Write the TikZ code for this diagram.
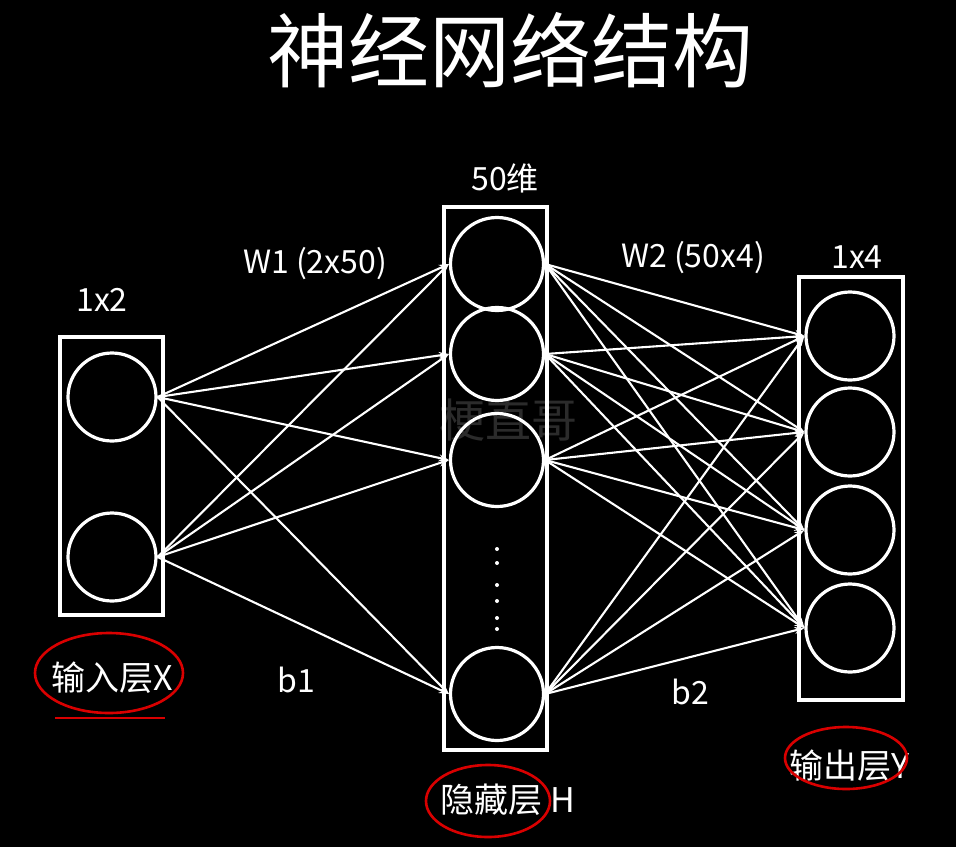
\documentclass[tikz,border=0pt]{standalone}
\usepackage{fontspec}
\setmainfont{Noto Sans CJK SC}
\usetikzlibrary{positioning,arrows.meta}

\begin{document}
\begin{tikzpicture}[
  x=1pt, y=-1pt,
  neuron/.style={circle, draw=white, line width=3.2pt, inner sep=0pt},
  layerbox/.style={rectangle, draw=white, line width=3.4pt, inner sep=0pt},
  arrow/.style={-{Stealth[length=10pt,width=7pt]}, white, line width=2.1pt},
  hand/.style={text=white, inner sep=1pt, font=\fontsize{32}{34}\selectfont},
  cjklabel/.style={text=white, inner sep=1pt, font=\fontsize{34}{36}\selectfont},
  redloop/.style={draw=red!85!black, line width=2.6pt},
]

% Background
\fill[black] (0,0) rectangle (956,847);
\useasboundingbox (0,0) rectangle (956,847);

% Title
\node[text=white, font=\fontsize{81}{84}\selectfont] (title) at (510, 50) {神经网络结构};

% Watermark
\node[text=white!17!black, font=\fontsize{46}{48}\selectfont] (wm) at (508, 420) {梗直哥};

% Layer boxes
\node[layerbox, minimum width=103, minimum height=278] (inbox) at (111.5, 476) {};
\node[layerbox, minimum width=103, minimum height=543] (hidbox) at (495.5, 478.5) {};
\node[layerbox, minimum width=104, minimum height=423] (outbox) at (851, 488.5) {};

% Input neurons
\node[neuron, minimum size=88] (in1) at (112, 397) {};
\node[neuron, minimum size=88] (in2) at (112, 557) {};

% Hidden neurons
\node[neuron, minimum size=93] (hid1) at (497, 264) {};
\node[neuron, minimum size=93] (hid2) at (497, 354) {};
\node[neuron, minimum size=93] (hid3) at (497, 460) {};
\node[neuron, minimum size=93] (hid4) at (497, 694) {};
\foreach \y in {549,563,585,601,618,629}
  \fill[white] (497, \y) circle (2);

% Output neurons
\node[neuron, minimum size=88] (out1) at (850, 336) {};
\node[neuron, minimum size=88] (out2) at (850, 432) {};
\node[neuron, minimum size=88] (out3) at (850, 530) {};
\node[neuron, minimum size=88] (out4) at (850, 628) {};

% Connections
\foreach \i in {1,2}
  \foreach \j in {1,...,4}
    \draw[arrow] (in\i.east) -- (hid\j.west);
\foreach \i in {1,...,4}
  \foreach \j in {1,...,4}
    \draw[arrow] (hid\i.east) -- (out\j.west);

% Shape labels
\node[hand] (insize) at (102, 300) {1x2};
\node[hand] (hidsize) at (505, 178) {50维};
\node[hand] (outsize) at (857, 257) {1x4};

% Weight and bias labels
\node[hand] (w1) at (315, 264) {W1 (2x50)};
\node[hand] (w2) at (693, 258) {W2 (50x4)};
\node[hand] (b1) at (296, 680) {b1};
\node[hand] (b2) at (690, 692) {b2};

% Layer names with red marks
\node[cjklabel] (inname) at (112, 678) {输入层X};
\node[cjklabel] (hidname) at (508, 800) {隐藏层 H};
\node[cjklabel] (outname) at (850, 766) {输出层Y};
\draw[redloop] (109, 673) ellipse [x radius=74, y radius=40];
\draw[redloop] (55, 718) -- (165, 718);
\draw[redloop] (488, 801) ellipse [x radius=62, y radius=36];
\draw[redloop] (846, 758) ellipse [x radius=61, y radius=31];

\end{tikzpicture}
\end{document}
